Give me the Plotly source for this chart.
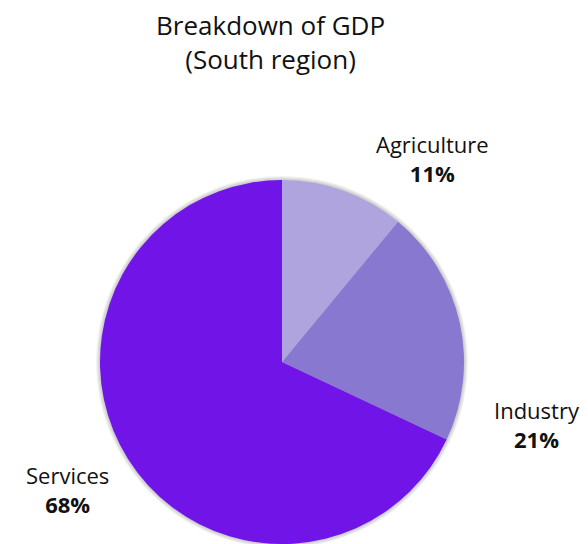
import plotly.graph_objects as go

# GDP breakdown by sector, South region
sectors = ["Agriculture", "Industry", "Services"]
shares = [11, 21, 68]
colors = ["#B0A4DE", "#8878D0", "#7014E8"]

# label anchor points (paper coords) for the outside labels
label_x = [432 / 588, 537 / 588, 67 / 588]
label_y = [1 - 159 / 544, 1 - 424 / 544, 1 - 489 / 544]

W, H = 588, 544
FONT = "Open Sans, Lato, sans-serif"

# pie placement in pixels
px0, px1 = 99, 465
py_top = 180
dom_x = [px0 / W, px1 / W]
dom_y = [0, (H - py_top) / H]

fig = go.Figure()

fig.add_trace(go.Pie(
    labels=sectors,
    values=shares,
    sort=False,
    direction="clockwise",
    rotation=0,
    marker=dict(colors=colors, line=dict(width=0)),
    textinfo="none",
    hoverinfo="label+percent",
    showlegend=False,
    domain=dict(x=dom_x, y=dom_y),
))

# soft halo around the pie
cx = (px0 + px1) / 2
cy = (py_top + H) / 2
r = min(px1 - px0, H - py_top) / 2
shapes = []
for k in range(1, 5):
    rr = r + k
    shapes.append(dict(
        type="circle", xref="paper", yref="paper", layer="below",
        x0=(cx - rr) / W, x1=(cx + rr) / W,
        y0=1 - (cy + rr) / H, y1=1 - (cy - rr) / H,
        fillcolor="rgba(0,0,0,0.05)", line=dict(width=0),
    ))

annotations = []
for name, v, x, y in zip(sectors, shares, label_x, label_y):
    annotations.append(dict(
        x=x, y=y, xref="paper", yref="paper",
        text=f"{name}<br><b>{v}%</b>",
        showarrow=False, xanchor="center", yanchor="middle",
        align="center",
        font=dict(family=FONT, size=22, color="#111111"),
    ))

annotations.append(dict(
    x=270 / W, y=1 - 42 / H, xref="paper", yref="paper",
    text="Breakdown of GDP<br>(South region)",
    showarrow=False, xanchor="center", yanchor="middle", align="center",
    font=dict(family=FONT, size=26, color="#111111"),
))

fig.update_layout(
    width=W, height=H,
    margin=dict(l=0, r=0, t=0, b=0),
    paper_bgcolor="white",
    plot_bgcolor="white",
    annotations=annotations,
    shapes=shapes,
)

fig.write_html("out.html")
